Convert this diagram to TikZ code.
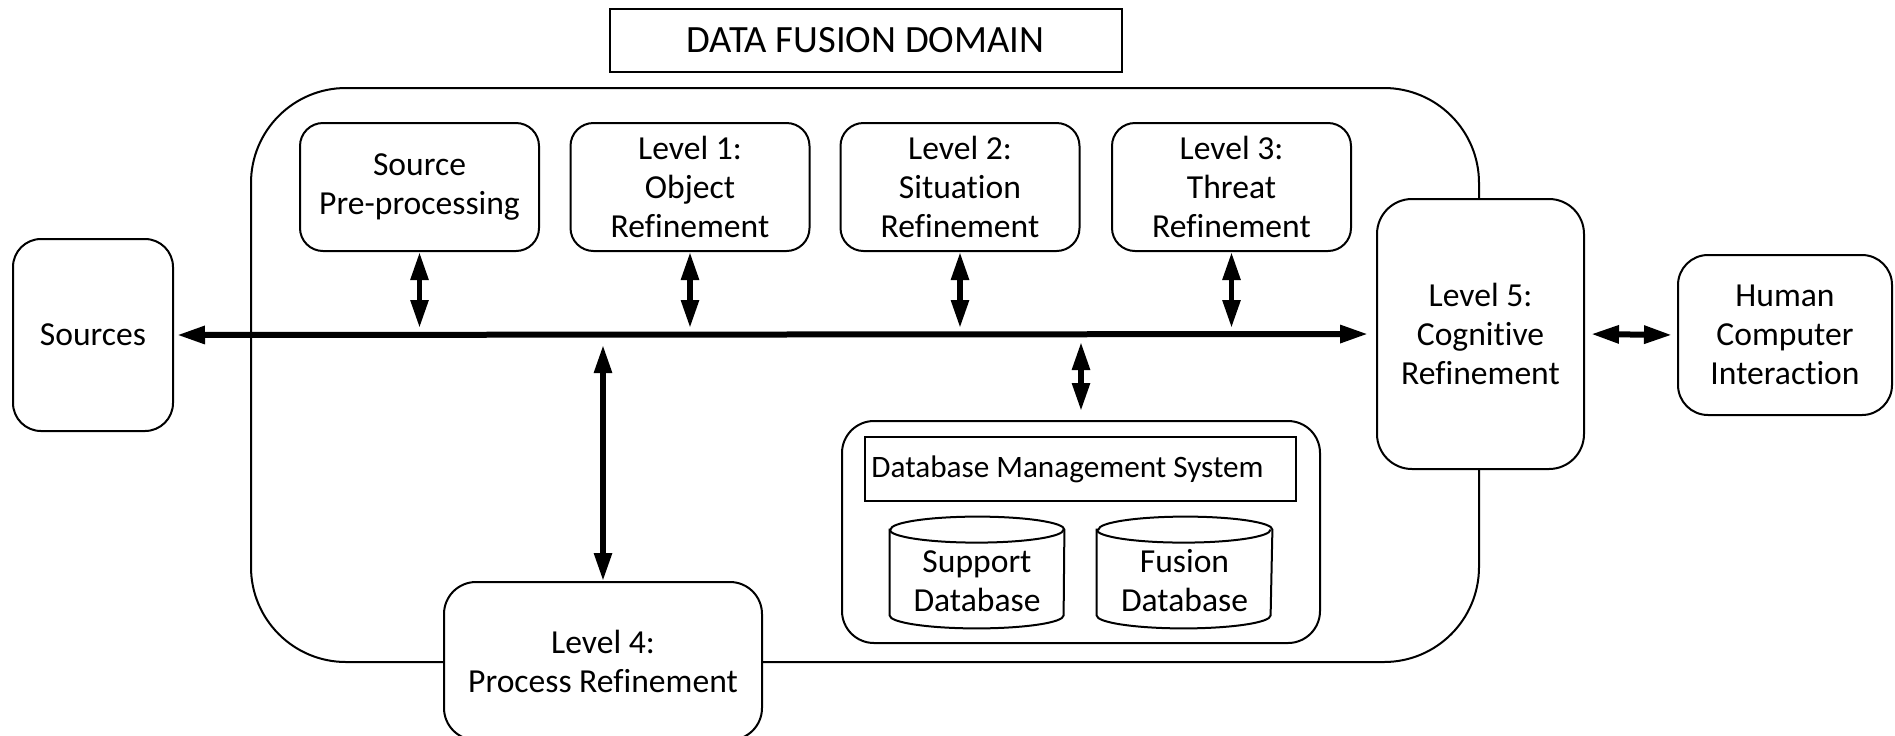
\documentclass[tikz,border=0pt]{standalone}
\usepackage{fontspec}
\setmainfont{Carlito}[Ligatures=NoCommon]
\usetikzlibrary{arrows.meta}
\begin{document}
\begin{tikzpicture}[x=0.5pt,y=-0.5pt,
  every node/.style={font=\fontsize{16.8}{19.5}\selectfont, align=center, inner sep=0pt},
  box/.style={draw, line width=1pt, fill=white, rounded corners=#1},
  lvl/.style={box=11.5pt, minimum width=119.5pt, minimum height=64pt},
  thinline/.style={line width=1pt},
  link/.style={line width=2.8pt, {Triangle[length=14pt,width=8.5pt]}-{Triangle[length=14pt,width=8.5pt]}},
  bus/.style={line width=3pt, {Triangle[length=14pt,width=8.5pt]}-{Triangle[length=14pt,width=8.5pt]}},
  dbend/.style={x radius=43.5pt, y radius=6.5pt}
]
\clip (0,0) rectangle (1895,735);
\fill[white] (0,0) rectangle (1895,735);

% data fusion domain frame and its title
\node[box=47.5pt, minimum width=614pt, minimum height=287pt, fill=none] (dom) at (865,375) {};
\node[draw, line width=1pt, minimum width=256pt, minimum height=31.5pt,
      font=\fontsize{19.3}{22}\selectfont] (title) at (865.5,40.5) {DATA FUSION DOMAIN};

% processing levels along the top
\node[lvl] (spp) at (419.5,187) {Source\\Pre-processing};
\node[lvl] (l1) at (690,187) {Level 1:\\Object\\Refinement};
\node[lvl] (l2) at (960,187) {Level 2:\\Situation\\Refinement};
\node[lvl] (l3) at (1231.5,187) {Level 3:\\Threat\\Refinement};

% sources outside the domain
\node[box=14pt, minimum width=80pt, minimum height=96pt] (src) at (93,335) {Sources};

% database management system
\node[box=16pt, minimum width=239pt, minimum height=111pt] (dbms) at (1081,532) {};
\node[draw, line width=1pt, minimum width=215.5pt, minimum height=32pt] (dbmsbar) at (1080.5,469) {};
\node[anchor=west, font=\fontsize{15.6}{18}\selectfont] (dbmst) at (871,469) {Database Management System};

\node[minimum width=87pt, minimum height=55.5pt] (sdb) at (977,572.5) {};
\draw[thinline, fill=white] ([yshift=-6.5pt]sdb.north west) -- ([yshift=6.5pt]sdb.south west)
  arc[start angle=180, end angle=360, dbend] -- ([yshift=-6.5pt]sdb.north east)
  arc[start angle=0, end angle=180, dbend] -- cycle;
\draw[thinline] ([yshift=-6.5pt]sdb.north west) arc[start angle=180, end angle=360, dbend];
\node (sdbt) at (977,581) {Support\\Database};

\node[minimum width=87.5pt, minimum height=55.5pt] (fdb) at (1184.5,572.5) {};
\draw[thinline, fill=white] ([yshift=-6.5pt]fdb.north west) -- ([yshift=6.5pt]fdb.south west)
  arc[start angle=180, end angle=360, dbend] -- ([yshift=-6.5pt]fdb.north east)
  arc[start angle=0, end angle=180, dbend] -- cycle;
\draw[thinline] ([yshift=-6.5pt]fdb.north west) arc[start angle=180, end angle=360, dbend];
\node (fdbt) at (1184.5,581) {Fusion\\Database};

% level 5 and the human interface
\node[box=17.5pt, minimum width=103.5pt, minimum height=135pt] (l5) at (1480.5,334) {Level 5:\\Cognitive\\Refinement};
\node[box=15pt, minimum width=107pt, minimum height=80pt] (hci) at (1785,335) {Human\\Computer\\Interaction};

% level 4 sits on the lower frame edge
\node[box=16pt, minimum width=159pt, minimum height=79pt] (l4) at (603,661) {Level 4:\\Process Refinement};

% main data bus and its taps
\draw[bus, shorten <=1.5pt, shorten >=4pt] (src.east) -- (l5.west);
\coordinate (busN) at (0,328);
\coordinate (busS) at (0,345);
\coordinate (busD) at (0,342);
\draw[link] (spp.south) -- (spp.south |- busN);
\draw[link] (l1.south) -- (l1.south |- busN);
\draw[link] (l2.south) -- (l2.south |- busN);
\draw[link] (l3.south) -- (l3.south |- busN);
\draw[link] (l4.north |- busS) -- (l4.north);
\draw[link, shorten >=4.5pt] (dbms.north |- busD) -- (dbms.north);
\draw[bus, shorten <=3pt, shorten >=2.5pt] (l5.east) -- (hci.west);
\end{tikzpicture}
\end{document}
